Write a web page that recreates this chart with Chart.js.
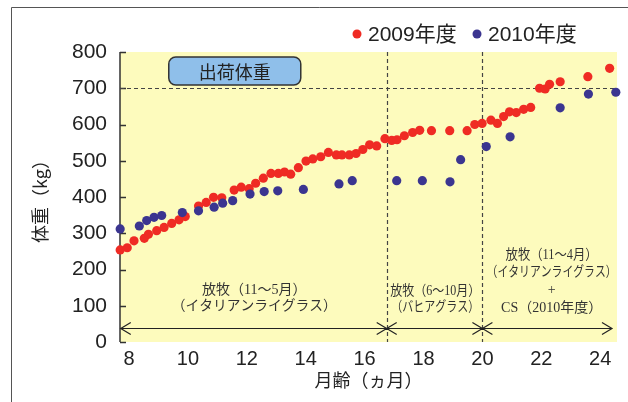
<!DOCTYPE html>
<html><head><meta charset="utf-8">
<script src="https://cdn.jsdelivr.net/npm/chart.js@4/dist/chart.umd.min.js"></script>
<style>html,body{margin:0;padding:0;background:#fff}#wrap{width:628px;height:402px;position:relative}</style>
</head><body><div id="wrap"><canvas id="c" width="628" height="402"></canvas></div>
<script>
const seriesNames = ['2009年度', '2010年度'];
const months2009 = [7.70,7.94,8.17,8.52,8.66,8.94,9.19,9.45,9.70,9.91,10.36,10.62,10.87,11.15,11.57,11.81,12.08,12.30,12.56,12.82,13.07,13.28,13.49,13.75,14.01,14.24,14.51,14.77,15.04,15.23,15.48,15.71,15.94,16.17,16.41,16.69,16.92,17.10,17.35,17.63,17.87,18.27,18.89,19.48,19.74,19.99,20.29,20.51,20.72,20.92,21.15,21.40,21.64,21.94,22.13,22.28,22.64,23.58,24.32];
const weights2009 = [254,260,279,286,297,307,316,327,337,346,375,385,399,398,419,427,423,438,452,465,465,469,463,481,499,505,511,523,516,516,516,520,531,544,541,561,556,558,569,578,584,583,583,583,600,603,612,603,622,635,633,642,647,700,698,711,718,732,755];
const months2010 = [7.70,8.35,8.60,8.85,9.11,9.81,10.36,10.89,11.18,11.52,12.11,12.59,13.05,13.92,15.13,15.58,17.09,17.96,18.90,19.26,20.13,20.94,22.64,23.60,24.53];
const weights2010 = [312,320,335,344,349,357,362,372,383,390,408,415,417,421,436,445,445,445,442,503,539,566,646,684,689];
const xTicks = [8,10,12,14,16,18,20,22,24];
const yTicks = [0,100,200,300,400,500,600,700,800];
const xTitle = '月齢（ヵ月）';
const yTitle = '体重（kg）';
const shipWeight = 700;
const shipLabel = '出荷体重';
const periodBounds = [7.72, 16.75, 20, 24.4];
const periodLabels = [
  {x: 12.25, lines: ['放牧（11～5月）', '（イタリアンライグラス）'], ys: [143, 99], w: [106, 165]},
  {x: 18.4, lines: ['放牧（6～10月）', '（バヒアグラス）'], ys: [141, 96], w: [90, 88]},
  {x: 22.35, lines: ['放牧（11～4月）', '（イタリアンライグラス）', '+', 'CS（2010年度）'], ys: [240, 191, 143, 94], w: [92, 130, 12, 102]}
];

const RED = '#ef2b24', BLUE = '#3b3590';
const toPts = (xs, ys) => xs.map((x, i) => ({x: x, y: ys[i]}));

const deco = {
  id: 'deco',
  beforeDraw(chart) {
    const ctx = chart.ctx, a = chart.chartArea;
    ctx.save();
    ctx.fillStyle = '#fff';
    ctx.fillRect(0, 0, chart.width, chart.height);
    ctx.strokeStyle = '#555';
    ctx.lineWidth = 1;
    ctx.beginPath();
    ctx.moveTo(11.5, 402); ctx.lineTo(11.5, 7.5); ctx.lineTo(628, 7.5);
    ctx.stroke();
    ctx.fillStyle = '#fdfbbd';
    ctx.fillRect(a.left, a.top, a.right - a.left, a.bottom - a.top);
    ctx.restore();
  },
  beforeDatasetsDraw(chart) {
    const ctx = chart.ctx, a = chart.chartArea;
    const xs = chart.scales.x, ys = chart.scales.y;
    ctx.save();
    // y axis line and inward ticks
    ctx.strokeStyle = '#333';
    ctx.lineWidth = 1.5;
    ctx.beginPath();
    ctx.moveTo(a.left, a.top); ctx.lineTo(a.left, a.bottom);
    yTicks.forEach(v => { const p = Math.round(ys.getPixelForValue(v)) + 0.5; ctx.moveTo(a.left, p); ctx.lineTo(a.left + 6, p); });
    ctx.stroke();
    // dashed lines
    ctx.setLineDash([4, 3]);
    ctx.lineWidth = 1.2;
    ctx.strokeStyle = '#444';
    ctx.beginPath();
    const py = Math.round(ys.getPixelForValue(shipWeight)) + 0.5;
    ctx.moveTo(a.left, py); ctx.lineTo(a.right, py);
    [periodBounds[1], periodBounds[2]].forEach(v => {
      const px = Math.round(xs.getPixelForValue(v)) + 0.5;
      ctx.moveTo(px, a.top); ctx.lineTo(px, a.bottom);
    });
    ctx.stroke();
    ctx.setLineDash([]);
    // arrows
    const ay = Math.round(ys.getPixelForValue(40)) + 0.5;
    ctx.strokeStyle = '#222';
    ctx.lineWidth = 1.2;
    ctx.beginPath();
    for (let i = 0; i < periodBounds.length - 1; i++) {
      const x1 = xs.getPixelForValue(periodBounds[i]), x2 = xs.getPixelForValue(periodBounds[i + 1]);
      ctx.moveTo(x1, ay); ctx.lineTo(x2, ay);
      ctx.moveTo(x1 + 10, ay - 6); ctx.lineTo(x1, ay); ctx.lineTo(x1 + 10, ay + 6);
      ctx.moveTo(x2 - 10, ay - 6); ctx.lineTo(x2, ay); ctx.lineTo(x2 - 10, ay + 6);
    }
    ctx.stroke();
    // ship label box
    const bx = xs.getPixelForValue(9.35), bw = 132, by = a.top + 5, bh = 28;
    ctx.beginPath();
    ctx.roundRect(bx, by, bw, bh, 7);
    ctx.fillStyle = '#8fbfea';
    ctx.fill();
    ctx.strokeStyle = '#333';
    ctx.lineWidth = 1.5;
    ctx.stroke();
    ctx.fillStyle = '#222';
    ctx.font = '18px "Noto Sans CJK JP", sans-serif';
    ctx.textAlign = 'center';
    ctx.textBaseline = 'middle';
    ctx.fillText(shipLabel, bx + bw / 2, by + bh / 2 + 1);
    // period labels
    ctx.fillStyle = '#333';
    ctx.font = '14px "Liberation Serif", "Noto Sans CJK JP", serif';
    periodLabels.forEach(b => {
      const cx = xs.getPixelForValue(b.x);
      b.lines.forEach((t, i) => {
        ctx.fillText(t, cx, ys.getPixelForValue(b.ys[i]), b.w[i]);
      });
    });
    ctx.restore();
  },
  afterDraw(chart) {
    const ctx = chart.ctx;
    ctx.save();
    ctx.font = '21px "Liberation Sans", "Noto Sans CJK JP", sans-serif';
    ctx.textBaseline = 'middle';
    ctx.textAlign = 'left';
    const items = [{x: 357, c: RED, t: seriesNames[0]}, {x: 477, c: BLUE, t: seriesNames[1]}];
    items.forEach(it => {
      ctx.beginPath();
      ctx.arc(it.x, 34, 4.5, 0, Math.PI * 2);
      ctx.fillStyle = it.c;
      ctx.fill();
      ctx.fillStyle = '#222';
      ctx.fillText(it.t, it.x + 11, 35, 96);
    });
    ctx.restore();
  }
};

new Chart(document.getElementById('c'), {
  type: 'scatter',
  data: {
    datasets: [
      {label: seriesNames[0], data: toPts(months2009, weights2009), backgroundColor: RED, borderColor: RED, pointRadius: 4.6, borderWidth: 0, order: 2, clip: false},
      {label: seriesNames[1], data: toPts(months2010, weights2010), backgroundColor: BLUE, borderColor: BLUE, pointRadius: 4.6, borderWidth: 0, order: 1, clip: false}
    ]
  },
  options: {
    responsive: false,
    animation: false,
    devicePixelRatio: 1,
    layout: {padding: {top: 52, right: 11, left: 0, bottom: 0}},
    plugins: {legend: {display: false}, tooltip: {enabled: false}},
    scales: {
      x: {
        type: 'linear', min: 7.694, max: 24.57,
        afterBuildTicks: s => { s.ticks = xTicks.map(v => ({value: v})); },
        afterFit: s => { s.height = 60; },
        grid: {display: false, drawTicks: false},
        border: {display: false},
        ticks: {font: {family: '"Liberation Sans", sans-serif', size: 20}, color: '#222', padding: 5, maxRotation: 0, autoSkip: false},
        title: {display: true, text: xTitle, font: {family: '"Noto Sans CJK JP", sans-serif', size: 18}, color: '#222', padding: {top: 0, bottom: 11}}
      },
      y: {
        type: 'linear', min: 0, max: 800,
        afterBuildTicks: s => { s.ticks = yTicks.map(v => ({value: v})); },
        afterFit: s => { s.width = 120; },
        grid: {display: false, drawTicks: false},
        border: {display: false},
        ticks: {font: {family: '"Liberation Sans", sans-serif', size: 21}, color: '#222', padding: 13},
        title: {display: true, text: yTitle, font: {family: '"Noto Sans CJK JP", sans-serif', size: 18}, color: '#222', padding: {top: 29, bottom: 0}}
      }
    }
  },
  plugins: [deco]
});
</script>
</body></html>
